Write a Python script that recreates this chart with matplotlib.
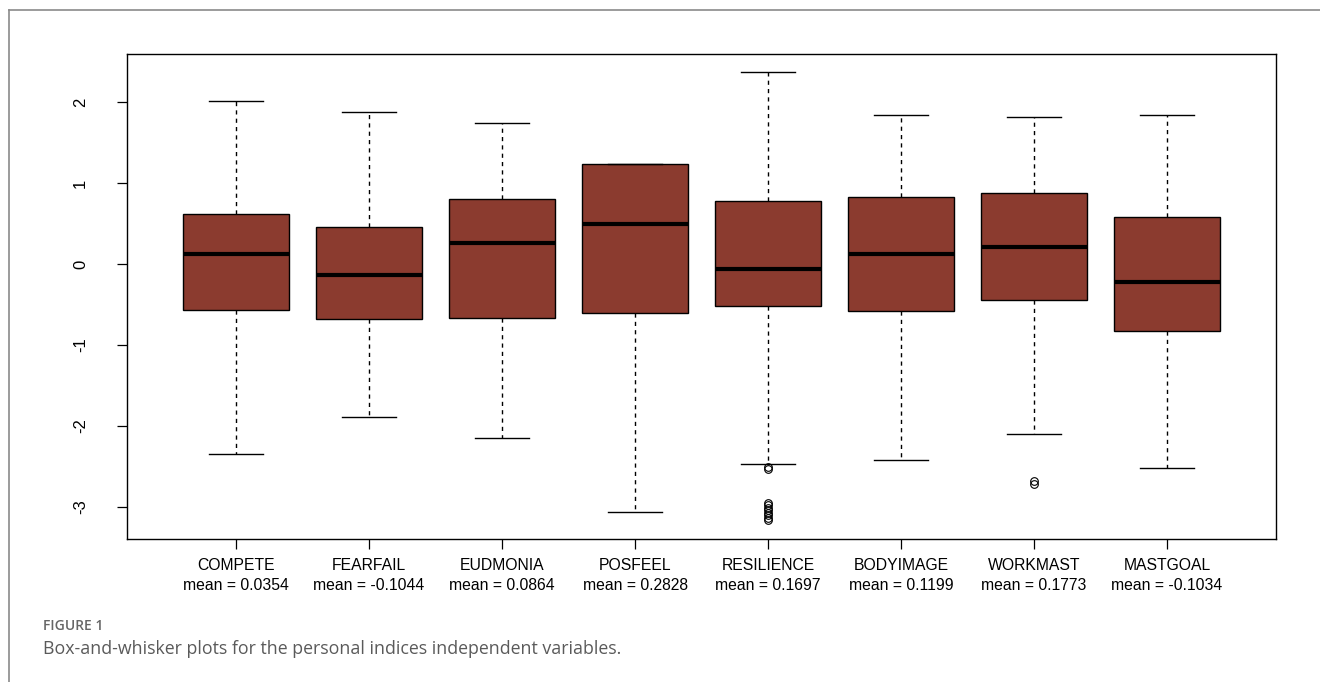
import matplotlib
matplotlib.use("Agg")
import matplotlib.pyplot as plt
from matplotlib.lines import Line2D

# five-number summaries per index (standardised scores)
names = ["COMPETE", "FEARFAIL", "EUDMONIA", "POSFEEL", "RESILIENCE", "BODYIMAGE", "WORKMAST", "MASTGOAL"]
means = [0.0354, -0.1044, 0.0864, 0.2828, 0.1697, 0.1199, 0.1773, -0.1034]
whislo = [-2.35, -1.89, -2.15, -3.06, -2.47, -2.42, -2.10, -2.52]
q1 = [-0.57, -0.68, -0.67, -0.60, -0.52, -0.58, -0.45, -0.83]
med = [0.12, -0.13, 0.26, 0.50, -0.06, 0.12, 0.21, -0.22]
q3 = [0.62, 0.46, 0.80, 1.23, 0.78, 0.83, 0.88, 0.58]
whishi = [2.01, 1.88, 1.74, 1.23, 2.37, 1.84, 1.81, 1.84]
outliers = [
    [],
    [],
    [],
    [],
    [-2.50, -2.53, -2.95, -2.98, -3.01, -3.04, -3.07, -3.10, -3.13, -3.16],
    [],
    [-2.68, -2.71],
    [],
]

box_color = "#8B3B2F"

plt.rcParams["font.family"] = ["Liberation Sans", "DejaVu Sans"]

fig = plt.figure(figsize=(13.2, 6.82), dpi=100)
ax = fig.add_axes([127 / 1320, 1 - 539 / 682, (1276 - 127) / 1320, (539 - 54) / 682])

stats = []
for i, n in enumerate(names):
    stats.append({
        "label": f"{n}\nmean = {means[i]:.4f}",
        "whislo": whislo[i], "q1": q1[i], "med": med[i],
        "q3": q3[i], "whishi": whishi[i], "fliers": outliers[i],
    })

ax.bxp(
    stats, positions=range(1, len(names) + 1), widths=0.8, patch_artist=True,
    showfliers=True,
    boxprops=dict(facecolor=box_color, edgecolor="black", linewidth=1.0),
    medianprops=dict(color="black", linewidth=3.0),
    whiskerprops=dict(color="black", linewidth=1.0, linestyle=(0, (3, 3))),
    capprops=dict(color="black", linewidth=1.0),
    capwidths=0.4,
    flierprops=dict(marker="o", markerfacecolor="none", markeredgecolor="black",
                    markersize=5.5, markeredgewidth=0.8),
)

ax.set_xlim(0.18, 8.82)
ax.set_ylim(-3.395, 2.593)
ax.set_yticks([-3, -2, -1, 0, 1, 2])
ax.set_yticklabels(["-3", "-2", "-1", "0", "1", "2"], rotation=90, va="center")
ax.tick_params(axis="y", length=7, width=0.9, pad=21, labelsize=12)
ax.tick_params(axis="x", length=7, width=0.9, pad=7, labelsize=11.3)
for lbl in ax.get_xticklabels():
    lbl.set_linespacing(1.4)
for s in ax.spines.values():
    s.set_linewidth(1.0)

# card frame and caption
fig.add_artist(Line2D([9 / 1320, 9 / 1320], [0, 1 - 10 / 682], color="#8a8a8a", lw=1.2,
                      transform=fig.transFigure))
fig.add_artist(Line2D([9 / 1320, 1], [1 - 10 / 682, 1 - 10 / 682], color="#8a8a8a", lw=1.2,
                      transform=fig.transFigure))
fig.text(43 / 1320, 1 - 626 / 682, "FIGURE 1", fontsize=10, color="#666666",
         family=["Open Sans", "DejaVu Sans"], fontweight="semibold", va="center")
fig.text(43 / 1320, 1 - 649 / 682,
         "Box-and-whisker plots for the personal indices independent variables.",
         fontsize=12.8, color="#5a5a5a", family=["Open Sans", "DejaVu Sans"], va="center")

fig.savefig("out.png", dpi=100)
